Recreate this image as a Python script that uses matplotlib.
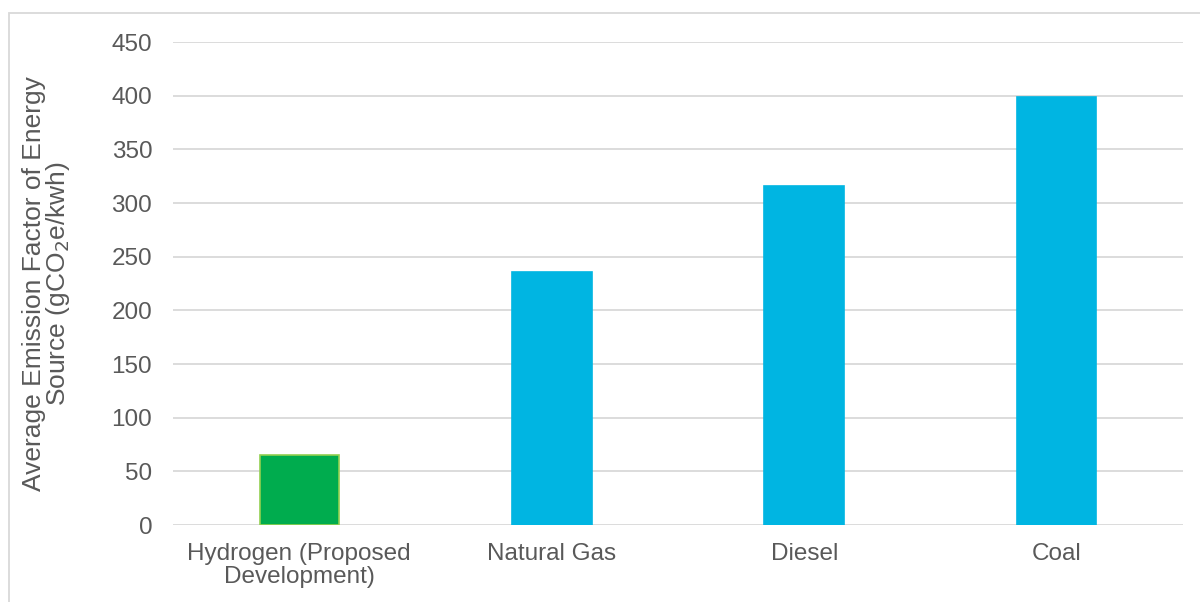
import matplotlib.pyplot as plt
import matplotlib.patches as mpatches

categories = ["Hydrogen (Proposed\nDevelopment)", "Natural Gas", "Diesel", "Coal"]
values = [65, 236, 316, 399]
colors = ["#00AC4E", "#00B5E2", "#00B5E2", "#00B5E2"]
edges = ["#92D050", "#00B5E2", "#00B5E2", "#00B5E2"]
yticks = [0, 50, 100, 150, 200, 250, 300, 350, 400, 450]

plt.rcParams["font.family"] = ["Liberation Sans", "DejaVu Sans"]

fig = plt.figure(figsize=(12, 6.02), dpi=100)
ax = fig.add_axes([0.1442, 0.1279, 0.8416, 0.8023])

x = range(len(categories))
ax.bar(x, values, width=0.315, color=colors, edgecolor=edges, linewidth=1.2, zorder=3)

ax.set_xlim(-0.5, len(categories) - 0.5)
ax.set_ylim(0, 450)
ax.set_yticks(yticks)
ax.set_xticks(list(x))
ax.set_xticklabels(categories, linespacing=1.08)
ax.tick_params(axis="both", length=0, labelsize=17.5, labelcolor="#595959")
ax.tick_params(axis="y", pad=15)
ax.tick_params(axis="x", pad=13)
ax.grid(axis="y", color="#D9D9D9", linewidth=1.3, zorder=0)
for s in ax.spines.values():
    s.set_visible(False)

fig.text(47 / 1200, 1 - 284 / 602,
         "Average Emission Factor of Energy\nSource (gCO$_2$e/kwh)",
         rotation=90, ha="center", va="center", fontsize=19,
         color="#595959", linespacing=0.95)

# chart frame (cropped on right/bottom)
frame = mpatches.Rectangle((9 / 1200, -0.05), 1.2, 1 - 13 / 602 + 0.05,
                           transform=fig.transFigure, fill=False,
                           edgecolor="#D9D9D9", linewidth=1.3, clip_on=False)
fig.patches.append(frame)

fig.savefig("out.png", dpi=100)
